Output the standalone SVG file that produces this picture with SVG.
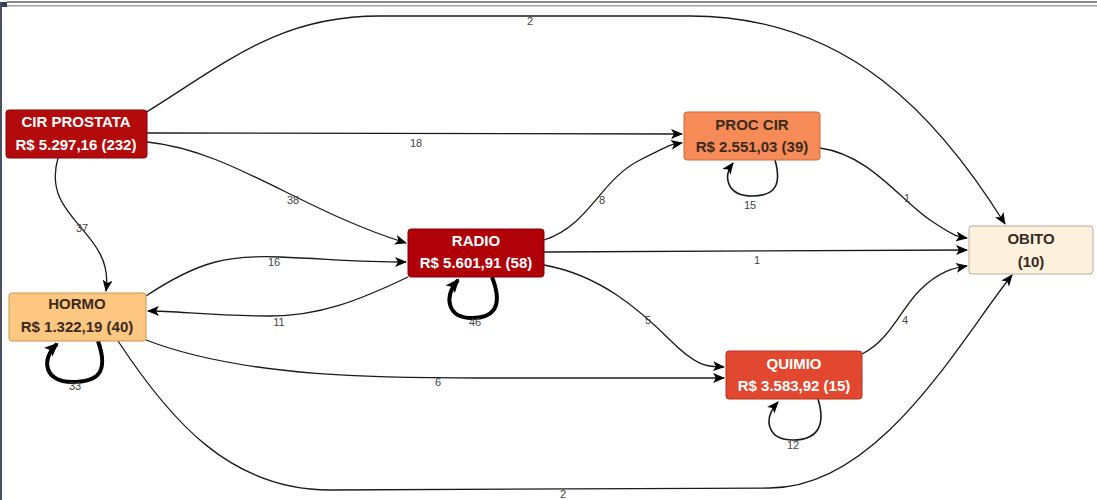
<svg xmlns="http://www.w3.org/2000/svg" width="1097" height="500" viewBox="0 0 1097 500">
<style>
.node rect{stroke-width:1}
.t{font-family:"Liberation Sans",Arial,sans-serif;font-weight:bold;font-size:15px;text-anchor:middle}
.w{fill:#ffffff}
.d{fill:#3a2a20}
.e{fill:none;stroke:#1a1a1a;stroke-width:1.3}
.loop{fill:none;stroke:#000;stroke-width:4}
.loopt{fill:none;stroke:#1a1a1a;stroke-width:1.6}
.lbl{font-family:"Liberation Sans",Arial,sans-serif;font-size:11px;fill:#444;text-anchor:middle}
</style>
<defs>
<marker id="arr" viewBox="0 0 12 10" refX="11" refY="5" markerWidth="12" markerHeight="10" markerUnits="userSpaceOnUse" orient="auto">
<path d="M0,0 L12,5 L0,10 L3,5 Z" fill="#000"/>
</marker>
<marker id="arrB" viewBox="0 0 14 12" refX="12" refY="6" markerWidth="14" markerHeight="12" markerUnits="userSpaceOnUse" orient="auto">
<path d="M0,0 L14,6 L0,12 L3,6 Z" fill="#000"/>
</marker>
</defs>
<rect x="0" y="0" width="1097" height="500" fill="#ffffff"/>
<g id="frame">
<rect x="7" y="1" width="1090" height="2" fill="#8c8c8c"/>
<rect x="7" y="5" width="1090" height="1.5" fill="#a0a0a0"/>
<rect x="0" y="2" width="7" height="5" fill="#2e3d5c"/>
<rect x="0" y="3" width="2" height="497" fill="#4a5060"/>
</g>
<g id="connectors">
<path class="e" d="M145,113 C230,60 280,16 380,16 L690,16 C850,16 940,120 1005,224" marker-end="url(#arr)"/>
<text class="lbl" x="530" y="25">2</text>
<path class="e" d="M147,133 L682,134" marker-end="url(#arr)"/>
<text class="lbl" x="416" y="147">18</text>
<path class="e" d="M147,142 C230,150 300,210 406,243" marker-end="url(#arr)"/>
<text class="lbl" x="293" y="204">38</text>
<path class="e" d="M58,158 C40,220 115,230 106,291" marker-end="url(#arr)"/>
<text class="lbl" x="82" y="232">37</text>
<path class="e" d="M146,296 C200,260 230,255 280,257 S360,262 406,262" marker-end="url(#arr)"/>
<text class="lbl" x="274" y="266">16</text>
<path class="e" d="M408,277 C360,300 320,316 270,316 C210,316 180,311 148,311" marker-end="url(#arr)"/>
<text class="lbl" x="279" y="326">11</text>
<path class="e" d="M544,240 C590,225 600,180 640,160 S670,145 682,143" marker-end="url(#arr)"/>
<text class="lbl" x="602" y="204">8</text>
<path class="e" d="M544,252 L967,250" marker-end="url(#arr)"/>
<text class="lbl" x="757" y="264">1</text>
<path class="e" d="M544,265 C600,275 640,310 670,340 S710,366 724,367" marker-end="url(#arr)"/>
<text class="lbl" x="648" y="324">5</text>
<path class="e" d="M820,148 C870,155 900,200 930,220 S960,237 967,238" marker-end="url(#arr)"/>
<text class="lbl" x="907" y="202">1</text>
<path class="e" d="M862,354 C890,340 900,310 920,290 S955,268 967,266" marker-end="url(#arr)"/>
<text class="lbl" x="905" y="324">4</text>
<path class="e" d="M146,340 C250,380 400,378 500,378 L724,378" marker-end="url(#arr)"/>
<text class="lbl" x="438" y="386">6</text>
<path class="e" d="M118,341 C170,420 230,490 330,490 L770,488 C880,488 960,340 1012,275" marker-end="url(#arr)"/>
<text class="lbl" x="563" y="498">2</text>
<path class="loop" d="M492,277 C505,310 490,318 472,318 C448,318 443,298 458,280" marker-end="url(#arrB)"/>
<text class="lbl" x="475" y="326">46</text>
<path class="loop" d="M98,341 C110,375 95,382 72,382 C45,382 40,360 57,344" marker-end="url(#arrB)"/>
<text class="lbl" x="75" y="390">33</text>
<path class="loopt" d="M775,160 C782,185 775,196 752,196 C728,196 722,178 733,163" marker-end="url(#arr)"/>
<text class="lbl" x="750" y="209">15</text>
<path class="loopt" d="M818,399 C826,425 818,440 793,440 C768,440 762,420 778,402" marker-end="url(#arr)"/>
<text class="lbl" x="793" y="449">12</text>
</g>
<g id="n-cir" class="node">
<rect x="6" y="110" width="141" height="48" rx="3" fill="#b30a0c" stroke="#8a0005"/>
<text class="t w" x="76" y="127">CIR PROSTATA</text>
<text class="t w" x="76" y="150">R$ 5.297,16 (232)</text>
</g>
<g id="n-radio" class="node">
<rect x="408" y="229" width="136" height="48" rx="3" fill="#b00008" stroke="#850005"/>
<text class="t w" x="476" y="246">RADIO</text>
<text class="t w" x="476" y="268">R$ 5.601,91 (58)</text>
</g>
<g id="n-proc" class="node">
<rect x="684" y="112" width="136" height="48" rx="3" fill="#f68b57" stroke="#c9683d"/>
<text class="t d" x="752" y="130">PROC CIR</text>
<text class="t d" x="752" y="152">R$ 2.551,03 (39)</text>
</g>
<g id="n-obito" class="node">
<rect x="969" y="226" width="124" height="48" rx="3" fill="#fdf1de" stroke="#b8ad9c"/>
<text class="t d" x="1031" y="244">OBITO</text>
<text class="t d" x="1031" y="267">(10)</text>
</g>
<g id="n-hormo" class="node">
<rect x="9" y="293" width="137" height="48" rx="3" fill="#fdc681" stroke="#c99650"/>
<text class="t d" x="77" y="309">HORMO</text>
<text class="t d" x="77" y="332">R$ 1.322,19 (40)</text>
</g>
<g id="n-quimio" class="node">
<rect x="726" y="351" width="136" height="48" rx="3" fill="#e2482f" stroke="#b23220"/>
<text class="t w" x="794" y="369">QUIMIO</text>
<text class="t w" x="794" y="391">R$ 3.583,92 (15)</text>
</g>
</svg>
